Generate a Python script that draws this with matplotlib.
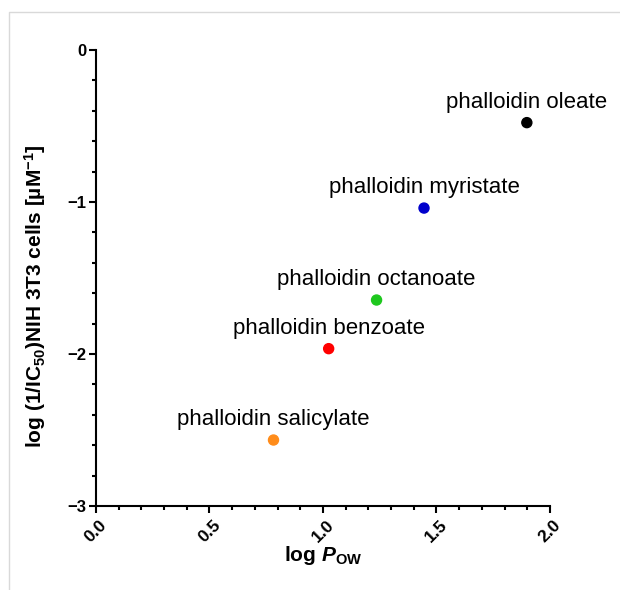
import matplotlib.pyplot as plt
from matplotlib.lines import Line2D
from matplotlib.ticker import MultipleLocator

plt.rcParams["font.family"] = ["Liberation Sans", "DejaVu Sans"]
plt.rcParams["mathtext.fontset"] = "custom"
plt.rcParams["mathtext.rm"] = "Liberation Sans:bold"
plt.rcParams["mathtext.it"] = "Liberation Sans:italic:bold"
plt.rcParams["mathtext.bf"] = "Liberation Sans:bold"

compounds = [
    "phalloidin oleate",
    "phalloidin myristate",
    "phalloidin octanoate",
    "phalloidin benzoate",
    "phalloidin salicylate",
]
log_pow = [1.898, 1.445, 1.236, 1.025, 0.782]
log_inv_ic50 = [-0.478, -1.04, -1.645, -1.965, -2.566]
colors = ["#000000", "#0000cc", "#1ec81e", "#ff0000", "#ff8c1a"]

x_ticks = [0.0, 0.5, 1.0, 1.5, 2.0]
y_ticks = [-3, -2, -1, 0]

fig = plt.figure(figsize=(6.2, 5.9), dpi=100)
ax = fig.add_axes([0.1548, 0.1424, 0.7323, 0.7729])

ax.scatter(log_pow, log_inv_ic50, s=52, c=colors, zorder=3, clip_on=False)
for name, x, y in zip(compounds, log_pow, log_inv_ic50):
    ax.annotate(name, (x, y), xytext=(0, 7), textcoords="offset points",
                ha="center", va="bottom", fontsize=16)

ax.set_xlim(0, 2)
ax.set_ylim(-3, 0)
ax.set_xticks(x_ticks)
ax.set_xticklabels([f"{t:.1f}" for t in x_ticks], rotation=45,
                   ha="center", va="top", fontweight="bold", fontsize=12.5)
ax.set_yticks(y_ticks)
ax.set_yticklabels([str(t).replace("-", "\u2212") for t in y_ticks],
                   fontweight="bold", fontsize=12)
ax.xaxis.set_minor_locator(MultipleLocator(0.1))
ax.yaxis.set_minor_locator(MultipleLocator(0.2))

for side in ["top", "right"]:
    ax.spines[side].set_visible(False)
for side in ["left", "bottom"]:
    ax.spines[side].set_linewidth(1.5)
ax.tick_params(which="major", length=5, width=1.5)
ax.tick_params(axis="x", which="major", pad=3)
ax.tick_params(axis="y", which="major", pad=2)
ax.tick_params(which="minor", length=3, width=1.5)

ax.set_xlabel(r"log $\mathit{P}_{\mathrm{OW}}$", fontsize=15, fontweight="bold")
ax.set_ylabel(r"log (1/IC$_{\mathrm{50}}$)NIH 3T3 cells [µM$^{\mathrm{-1}}$]",
              fontsize=15, fontweight="bold")
ax.xaxis.set_label_coords(0.5, -0.083)
ax.yaxis.set_label_coords(-0.106, 0.46)

# thin grey frame (left and top edges only)
border_x = 9 / 620
border_y = 1 - 12 / 590
fig.add_artist(Line2D([border_x, border_x, 1], [0, border_y, border_y],
                      transform=fig.transFigure, color="#d9d9d9", linewidth=1))

fig.savefig("out.png", dpi=100)
